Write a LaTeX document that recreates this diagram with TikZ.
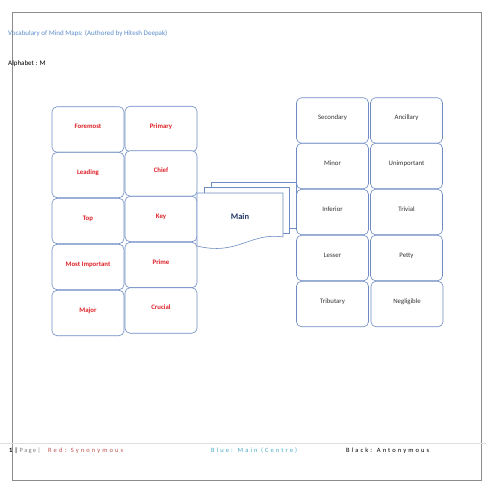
\documentclass[tikz,border=0pt]{standalone}
\usepackage{fontspec}
\setmainfont{Carlito}
\definecolor{boxblue}{RGB}{110,140,195}
\definecolor{synred}{RGB}{222,32,40}
\definecolor{antgray}{RGB}{50,50,50}
\definecolor{headblue}{RGB}{90,140,200}
\definecolor{mainblue}{RGB}{31,56,100}
\definecolor{footred}{RGB}{192,80,77}
\definecolor{footblue}{RGB}{75,172,198}
\tikzset{
  card/.style={draw=boxblue, line width=0.6pt, rounded corners=5pt, fill=white,
    minimum width=72pt, minimum height=45.5pt, text height=4.5pt, text depth=6pt,
    inner sep=0pt, font=\fontsize{6.8}{7}\selectfont},
  syn/.style={card, text=synred, font=\fontsize{6.8}{7}\selectfont\bfseries},
  ant/.style={card, text=antgray},
  doc/.style={draw=boxblue, line width=0.6pt, fill=white},
  foot/.style={anchor=base west, inner sep=0pt, font=\fontsize{6.5}{7}\selectfont\addfontfeature{LetterSpace=32}}
}
\begin{document}
\begin{tikzpicture}[x=1pt, y=-1pt]
  \useasboundingbox (0,0) rectangle (495,495);
  % page frame and footer rule
  \draw[black!45, line width=0.8pt] (12,12) rectangle (481,480);
  \draw[gray!25, line width=0.6pt] (0,443) -- (486,443);

  % heading
  \node[anchor=west, inner sep=0pt, text=headblue, font=\fontsize{7}{8}\selectfont] (title) at (8,34) {Vocabulary of Mind Maps: (Authored by Hitesh Deepak)};
  \node[anchor=west, inner sep=0pt, font=\fontsize{7}{8}\selectfont] (alpha) at (8,64) {Alphabet : M};

  % synonyms (left)
  \node[syn] (foremost) at (88,129.5) {Foremost};
  \node[syn] (leading) at (88,175) {Leading};
  \node[syn] (top) at (88,221) {Top};
  \node[syn] (mostimp) at (88,267) {Most Important};
  \node[syn] (major) at (88,313) {Major};
  \node[syn] (primary) at (161,129) {Primary};
  \node[syn] (chief) at (161,173.5) {Chief};
  \node[syn] (key) at (161,219) {Key};
  \node[syn] (prime) at (161,265) {Prime};
  \node[syn] (crucial) at (161,310.5) {Crucial};

  % antonyms (right)
  \node[ant] (secondary) at (332.5,120.5) {Secondary};
  \node[ant] (minor) at (332.5,166) {Minor};
  \node[ant] (inferior) at (332.5,212) {Inferior};
  \node[ant] (lesser) at (332.5,258) {Lesser};
  \node[ant] (tributary) at (332.5,304) {Tributary};
  \node[ant] (ancillary) at (406.5,120.5) {Ancillary};
  \node[ant] (unimp) at (406.5,166) {Unimportant};
  \node[ant] (trivial) at (406.5,212) {Trivial};
  \node[ant] (petty) at (406.5,258) {Petty};
  \node[ant] (negligible) at (407,304) {Negligible};

  % main (multidocument)
  \draw[doc] (211,182) rectangle (296,228);
  \draw[doc] (204,187) rectangle (289,233);
  \draw[doc] (197,193) -- (283,193) -- (283,237)
    .. controls (250,232) and (238,256) .. (197,246) -- cycle;
  \node[text=mainblue, font=\fontsize{8.5}{9}\selectfont\bfseries] (main) at (240,217) {Main};

  % footer
  \node[foot] (pnum) at (9,452) {\textbf{1|}\textcolor{gray}{\addfontfeature{LetterSpace=20}Page|}};
  \node[foot, text=footred] (kred) at (48,452) {Red: Synonymous};
  \node[foot, text=footblue] (kblue) at (211,452) {Blue: Main (Centre)};
  \node[foot, text=black] (kblack) at (346,452) {Black: Antonymous};
\end{tikzpicture}
\end{document}
